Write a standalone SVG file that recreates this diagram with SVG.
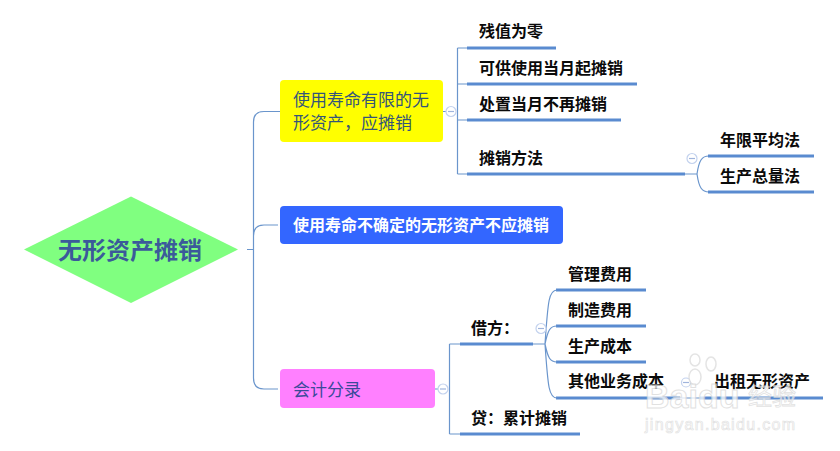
<svg xmlns="http://www.w3.org/2000/svg" width="840" height="451" viewBox="0 0 840 451">
<style>
text{font-family:"Noto Sans CJK SC","Liberation Sans",sans-serif}
.leaf{font-size:16px;font-weight:700;fill:#0a0a0a}
.n{font-size:17px;fill:#34557a}
.thin{fill:none;stroke:#6a95cc;stroke-width:1.2}
.thick{fill:none;stroke:#5a8bd0;stroke-width:3}
.tog{fill:#fff;stroke:#c3d2ee;stroke-width:1.2}
.min{stroke:#9fb4dc;stroke-width:1.2}
.paw{fill:#fff;stroke:#dedede;stroke-width:1.5;opacity:.8}
</style>
<rect width="840" height="451" fill="#fff"/>
<g id="connectors">
<path class="thin" d="M247 249.5H253.5M280 111.5H264Q253.5 111.5 253.5 122V378Q253.5 389 264 389H278M253.5 236Q253.5 225 264 225H278"/>
<path class="thin" d="M443 111.5H446M457.5 48V174M457.5 48H467M457.5 84H467M457.5 120H467M457.5 174H467"/>
<path class="thick" d="M467 48H556M467 84H637M467 120H621M467 174H685"/>
<path class="thin" d="M685 174H697M697 174C699 160 702 156 709 156M697 174C699 188 702 192 709 192"/>
<path class="thick" d="M708 156H814M708 192H814"/>
<path class="thin" d="M435 389H438M449.5 344V434M449.5 344H460M449.5 434H460M533 344H545"/>
<path class="thick" d="M460 344H533M460 434H580M556 290H646M556 326H646M556 362H646M556 398H680M700 398H823"/>
<path class="thin" d="M680 398H700M545 344C548 300 549 290 557 290M545 344C548 330 550 326 557 326M545 344C548 358 550 362 557 362M545 344C548 388 549 398 557 398"/>
</g>
<g id="root">
<polygon points="24,249.5 131,196.5 238,249.5 131,303" fill="#80ff80"/>
<text x="130" y="259" text-anchor="middle" font-size="24" font-weight="700" fill="#3b5a9a">无形资产摊销</text>
</g>
<g id="node-limited">
<rect x="280" y="80" width="163" height="62" rx="4" fill="#ffff00"/>
<text class="n" x="293" y="106">使用寿命有限的无</text>
<text class="n" x="293" y="129">形资产，应摊销</text>
<circle class="tog" cx="451" cy="111.5" r="5"/><path class="min" d="M448 111.5H454"/>
</g>
<g id="node-indefinite">
<rect x="280" y="206" width="283" height="38" rx="4" fill="#3366ff"/>
<text x="293" y="231" font-size="16" font-weight="700" fill="#fff">使用寿命不确定的无形资产不应摊销</text>
</g>
<g id="node-entry">
<rect x="280" y="369" width="155" height="39" rx="4" fill="#ff80ff"/>
<text class="n" x="293" y="396" style="fill:#3b4a9a">会计分录</text>
<circle class="tog" cx="443" cy="389" r="5"/><path class="min" d="M440 389H446"/>
</g>
<g id="leaf-1"><text class="leaf" x="479" y="37">残值为零</text></g>
<g id="leaf-2"><text class="leaf" x="479" y="74">可供使用当月起摊销</text></g>
<g id="leaf-3"><text class="leaf" x="479" y="110">处置当月不再摊销</text></g>
<g id="leaf-4"><text class="leaf" x="479" y="164">摊销方法</text>
<circle class="tog" cx="692" cy="158.500" r="5"/><path class="min" d="M689 158.500H695"/></g>
<g id="leaf-4-1"><text class="leaf" x="720" y="146">年限平均法</text></g>
<g id="leaf-4-2"><text class="leaf" x="720" y="182">生产总量法</text></g>
<g id="leaf-debit"><text class="leaf" x="471" y="334">借方：</text>
<circle class="tog" cx="541" cy="328.500" r="5"/><path class="min" d="M538 328.500H544"/></g>
<g id="leaf-credit"><text class="leaf" x="471" y="424">贷：累计摊销</text></g>
<g id="leaf-d1"><text class="leaf" x="568" y="280">管理费用</text></g>
<g id="leaf-d2"><text class="leaf" x="568" y="316">制造费用</text></g>
<g id="leaf-d3"><text class="leaf" x="568" y="352">生产成本</text></g>
<g id="leaf-d4"><text class="leaf" x="568" y="387">其他业务成本</text>
<circle class="tog" cx="686" cy="382.500" r="4.500"/><path class="min" d="M683 382.500H689"/></g>
<g id="leaf-d4-1"><text class="leaf" x="714" y="387">出租无形资产</text></g>
<g id="watermark">
<ellipse class="paw" cx="695" cy="377" rx="6" ry="8"/><ellipse class="paw" cx="711" cy="364" rx="5" ry="7"/><ellipse class="paw" cx="695" cy="360" rx="5" ry="6"/>
<text x="645" y="408" font-size="34" font-weight="700" style="font-family:'Liberation Sans',sans-serif;fill:#fff;stroke:#d8d8d8;stroke-width:1" opacity=".75">Baidu</text>
<text x="748" y="405" font-size="24" style="fill:#fff;stroke:#d8d8d8;stroke-width:.8" opacity=".75">经验</text>
<text x="645" y="430" font-size="16" style="font-family:'Liberation Sans',sans-serif;fill:#fff;stroke:#d8d8d8;stroke-width:.7" opacity=".75" textLength="150">jingyan.baidu.com</text>
</g>
</svg>
